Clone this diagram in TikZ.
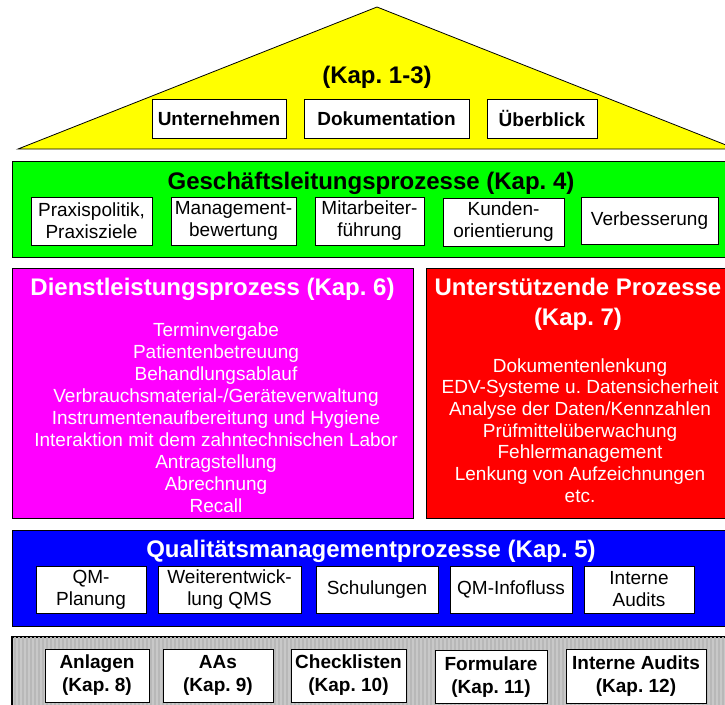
\documentclass[tikz,border=0pt]{standalone}
\usepackage{fontspec}
\setmainfont{Liberation Sans}
\definecolor{cyel}{RGB}{255,255,0}
\definecolor{cgrn}{RGB}{0,255,0}
\definecolor{cmag}{RGB}{255,0,255}
\definecolor{cred}{RGB}{255,0,0}
\definecolor{cblu}{RGB}{0,0,255}
\definecolor{cgry}{RGB}{200,200,200}
\definecolor{cstr}{RGB}{184,184,184}
\frenchspacing
\begin{document}
\begin{tikzpicture}[x=1pt,y=-1pt,
  lay/.style={draw=black,line width=0.8pt,inner sep=0pt},
  wbox/.style={draw=black,line width=0.8pt,fill=white,inner sep=0pt,align=center,font=\fontsize{19}{22}\selectfont},
  bbox/.style={wbox,font=\bfseries\fontsize{19}{23}\selectfont},
  ttl/.style={font=\bfseries\fontsize{24}{30}\selectfont,inner sep=0pt,anchor=base,align=center},
  lst/.style={font=\fontsize{19}{22}\selectfont,inner sep=0pt,anchor=base,text=white},
  stripe/.style={draw=cstr,line width=2pt}]
\useasboundingbox (0,0) rectangle (725,704);
\clip (0,0) rectangle (725,704);

% roof
\coordinate (apex) at (377,7);
\coordinate (bl) at (18,149);
\coordinate (br) at (736,149);
\draw[line width=0.8pt,fill=cyel] (apex) -- (bl) -- (br) -- cycle;
\node[ttl] (roofT) at (377,83) {(Kap. 1-3)};
\node[bbox,minimum width=134pt,minimum height=39pt] (u1) at (219,118.5) {Unternehmen};
\node[bbox,minimum width=165pt,minimum height=39pt] (u2) at (386.5,118.5) {Dokumentation};
\node[bbox,minimum width=110pt,minimum height=39pt] (u3) at (542,118.5) {Überblick};

% green layer
\node[lay,fill=cgrn,minimum width=718pt,minimum height=96pt] (gl) at (371,209) {};
\node[ttl] (glT) at (371,189) {Geschäftsleitungsprozesse (Kap. 4)};
\node[wbox,minimum width=121pt,minimum height=48pt] (g1) at (91.5,221) {Praxispolitik,\\Praxisziele};
\node[wbox,minimum width=125pt,minimum height=48pt] (g2) at (233.5,221) {Management-\\bewertung};
\node[wbox,minimum width=109pt,minimum height=48pt] (g3) at (369.5,221) {Mitarbeiter-\\führung};
\node[wbox,minimum width=121pt,minimum height=48pt] (g4) at (503.5,222) {Kunden-\\orientierung};
\node[wbox,minimum width=137pt,minimum height=47pt] (g5) at (649.5,220.5) {Verbesserung};

% magenta layer
\node[lay,fill=cmag,minimum width=401pt,minimum height=250pt] (ml) at (212.5,393) {};
\node[ttl,text=white] (mlT) at (212.5,295) {Dienstleistungsprozess (Kap. 6)};
\node[lst] (m1) at (216,336) {Terminvergabe};
\node[lst] (m2) at (216,358.1) {Patientenbetreuung};
\node[lst] (m3) at (216,380.2) {Behandlungsablauf};
\node[lst] (m4) at (216,402.3) {Verbrauchsmaterial-/Geräteverwaltung};
\node[lst] (m5) at (216,424.4) {Instrumentenaufbereitung und Hygiene};
\node[lst] (m6) at (216,446.5) {Interaktion mit dem zahntechnischen Labor};
\node[lst] (m7) at (216,468.6) {Antragstellung};
\node[lst] (m8) at (216,490.7) {Abrechnung};
\node[lst] (m9) at (216,512.8) {Recall};

% red layer
\node[lay,fill=cred,minimum width=304pt,minimum height=250pt] (rl) at (578,393) {};
\node[ttl,text=white] (rlT1) at (578,295) {Unterstützende Prozesse};
\node[ttl,text=white] (rlT2) at (578,325) {(Kap. 7)};
\node[lst] (r1) at (580,372) {Dokumentenlenkung};
\node[lst] (r2) at (580,393.7) {EDV-Systeme u. Datensicherheit};
\node[lst] (r3) at (580,415.4) {Analyse der Daten/Kennzahlen};
\node[lst] (r4) at (580,437.1) {Prüfmittelüberwachung};
\node[lst] (r5) at (580,458.8) {Fehlermanagement};
\node[lst] (r6) at (580,480.5) {Lenkung von Aufzeichnungen};
\node[lst] (r7) at (580,502.2) {etc.};

% blue layer
\node[lay,fill=cblu,minimum width=718pt,minimum height=96pt] (bl2) at (371,578) {};
\node[ttl,text=white] (blT) at (371,557) {Qualitätsmanagementprozesse (Kap. 5)};
\node[wbox,minimum width=110pt,minimum height=47pt] (q1) at (91,589.5) {QM-\\Planung};
\node[wbox,minimum width=143pt,minimum height=47pt] (q2) at (229.5,589.5) {Weiterentwick-\\lung QMS};
\node[wbox,minimum width=122pt,minimum height=47pt] (q3) at (377,589.5) {Schulungen};
\node[wbox,minimum width=122pt,minimum height=47pt] (q4) at (511,589.5) {QM-Infofluss};
\node[wbox,minimum width=110pt,minimum height=47pt] (q5) at (639,589.5) {Interne\\Audits};

% gray foundation
\node[lay,fill=cgry,minimum width=718pt,minimum height=84pt] (fl) at (371,679) {};
\begin{scope}
  \clip (12.5,637.5) rectangle (730,720);
  \foreach \i in {15,19,...,731} \draw[stripe] (\i,637) -- (\i,720);
\end{scope}
\draw[line width=0.8pt] (fl.south west) -- (fl.north west) -- (fl.north east);
\node[bbox,minimum width=104pt,minimum height=53pt] (f1) at (97,675.5) {Anlagen\\(Kap. 8)};
\node[bbox,minimum width=110pt,minimum height=53pt] (f2) at (218,675.5) {AAs\\(Kap. 9)};
\node[bbox,minimum width=115pt,minimum height=53pt] (f3) at (348.5,675.5) {Checklisten\\(Kap. 10)};
\node[bbox,minimum width=112pt,minimum height=53pt] (f4) at (491,677) {Formulare\\(Kap. 11)};
\node[bbox,minimum width=140pt,minimum height=54pt] (f5) at (636,676) {Interne Audits\\(Kap. 12)};
\end{tikzpicture}
\end{document}
